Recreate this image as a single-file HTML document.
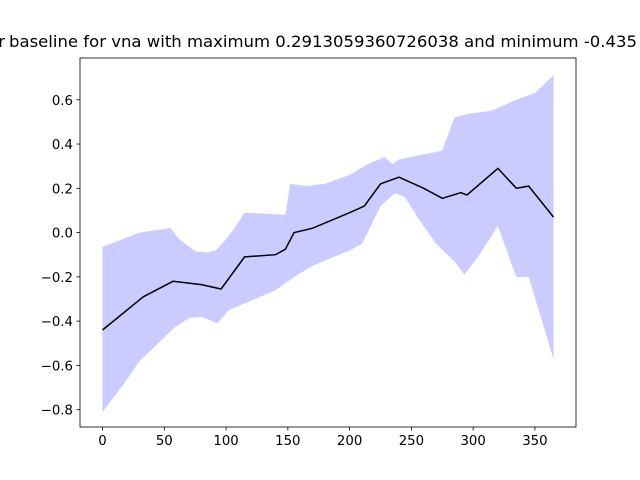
<!DOCTYPE html>
<html><head><meta charset="utf-8"><style>
html,body{margin:0;padding:0;background:#fff}
svg{display:block;font-family:"DejaVu Sans","Liberation Sans",sans-serif}
</style></head><body>
<svg id="chart" width="640" height="480" viewBox="0 0 640 480">
<rect width="640" height="480" fill="#fff"/>
<text x="5" y="47" font-size="16" text-anchor="end">Mean and std dev for</text>
<text x="9" y="47" font-size="16" textLength="628" lengthAdjust="spacingAndGlyphs">baseline for vna with maximum 0.2913059360726038 and minimum -0.435</text>
<g id="plot"></g>
</svg>
<script>
const xs = [0,15,30,33,45,55,57,58,62,70,75,80,85,92,93,96,100,102,108,115,140,148,152,155,165,170,180,200,210,212,215,225,228,235,237,240,245,255,260,270,275,285,290,293,295,305,315,320,335,345,350,365];
const meanPts = [[0,-0.44],[33,-0.29],[57,-0.22],[80,-0.235],[96,-0.255],[115,-0.11],[140,-0.10],[148,-0.075],[155,0.0],[170,0.02],[200,0.09],[212,0.12],[225,0.22],[240,0.25],[260,0.20],[275,0.155],[290,0.18],[295,0.17],[320,0.29],[335,0.20],[345,0.21],[365,0.07]];
const upperPts = [[0,-0.065],[30,0.0],[55,0.02],[62,-0.03],[75,-0.085],[85,-0.09],[92,-0.08],[100,-0.03],[108,0.03],[115,0.09],[148,0.08],[152,0.22],[165,0.21],[180,0.22],[200,0.26],[215,0.31],[228,0.34],[235,0.31],[240,0.33],[275,0.37],[285,0.52],[295,0.535],[315,0.55],[335,0.60],[350,0.63],[365,0.71]];
const lowerPts = [[0,-0.81],[15,-0.70],[30,-0.58],[45,-0.50],[58,-0.43],[70,-0.385],[80,-0.38],[93,-0.41],[102,-0.35],[115,-0.32],[140,-0.26],[155,-0.20],[170,-0.15],[200,-0.08],[210,-0.05],[225,0.12],[237,0.18],[245,0.16],[255,0.07],[270,-0.05],[285,-0.13],[293,-0.19],[305,-0.10],[320,0.03],[335,-0.20],[345,-0.20],[365,-0.57]];
const xTicks = [0,50,100,150,200,250,300,350];
const yTicks = [-0.8,-0.6,-0.4,-0.2,0.0,0.2,0.4,0.6];

const NS="http://www.w3.org/2000/svg";
const L=80,R=576,T=58,B=427;
const xMin=-18.25,xMax=383.25;
const yMin=-0.8783,yMax=0.7887;
const X=v=>L+(v-xMin)/(xMax-xMin)*(R-L);
const Y=v=>B-(v-yMin)/(yMax-yMin)*(B-T);
const g=document.getElementById('plot');
function mk(t,a){const e=document.createElementNS(NS,t);for(const k in a)e.setAttribute(k,a[k]);g.appendChild(e);return e;}

const band=mk('path',{d:'M'+upperPts.map(p=>X(p[0]).toFixed(1)+','+Y(p[1]).toFixed(1)).join('L')+'L'+lowerPts.slice().reverse().map(p=>X(p[0]).toFixed(1)+','+Y(p[1]).toFixed(1)).join('L')+'Z',fill:'#0000ff',opacity:'0.2',stroke:'#0000ff','stroke-opacity':'0.2'});



const line=mk('path',{d:'M'+meanPts.map(p=>X(p[0]).toFixed(1)+','+Y(p[1]).toFixed(1)).join('L'),fill:'none',stroke:'#000','stroke-width':'1.5'});



const frame=mk('rect',{x:L,y:T,width:R-L,height:B-T,fill:'none',stroke:'#000','stroke-width':'0.8'});



xTicks.forEach(v=>{
  const tk=mk('line',{x1:X(v),x2:X(v),y1:B,y2:B+3.5,stroke:'#000','stroke-width':'0.8'});
  
  
  const t=mk('text',{x:X(v),y:B+18,'font-size':'13.3','text-anchor':'middle'});
  t.textContent=String(v);
  
  
});
yTicks.forEach(v=>{
  const tk=mk('line',{x1:L-3.5,x2:L,y1:Y(v),y2:Y(v),stroke:'#000','stroke-width':'0.8'});
  
  
  const t=mk('text',{x:L-7,y:Y(v)+5,'font-size':'13.3','text-anchor':'end'});
  t.textContent=(v<0?'\u2212':'')+Math.abs(v).toFixed(1);
  
  
});
</script>
</body></html>
